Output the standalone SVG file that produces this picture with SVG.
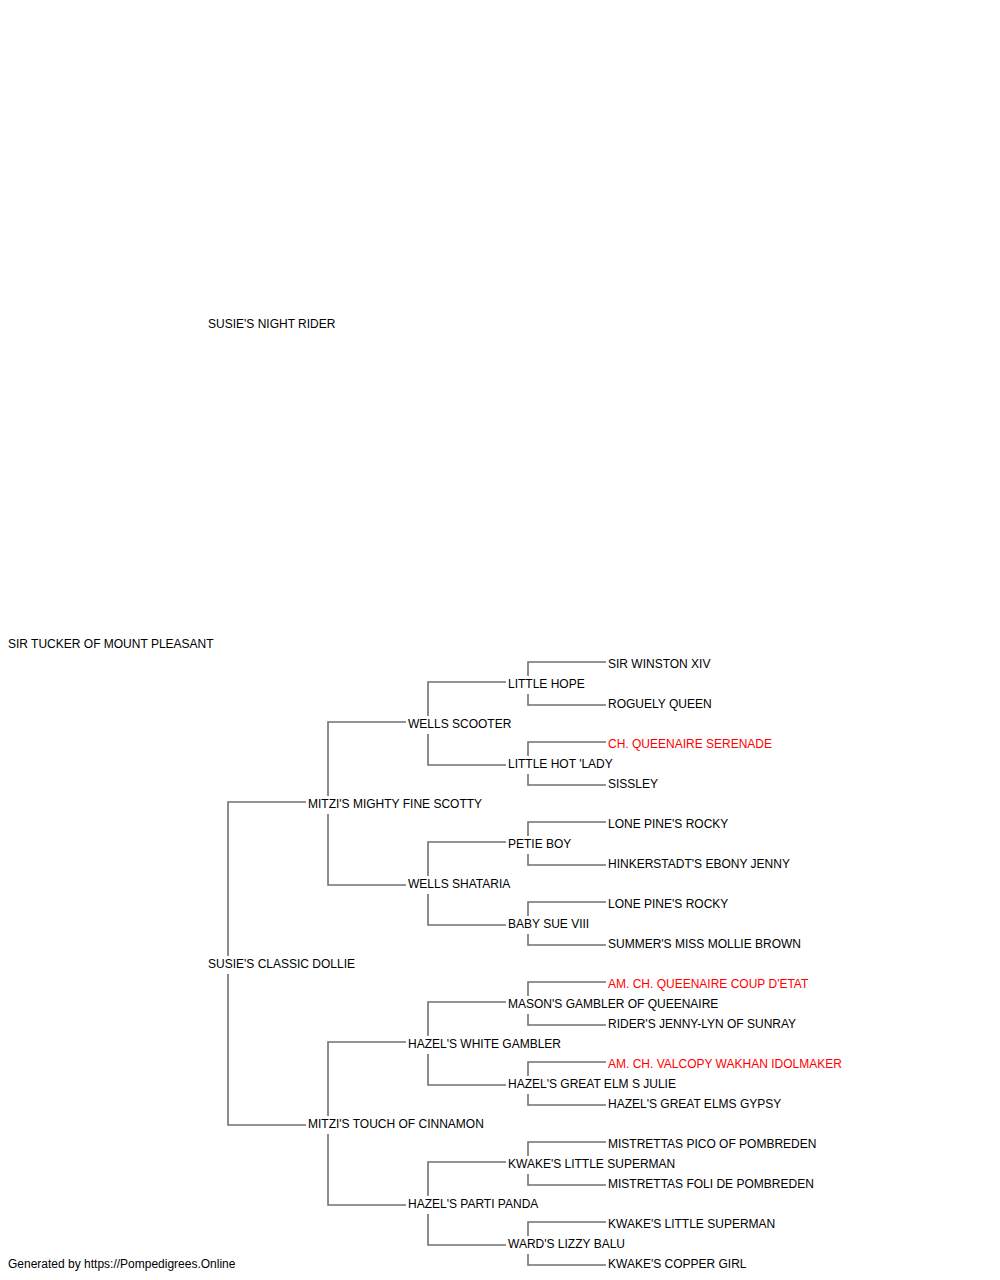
<svg xmlns="http://www.w3.org/2000/svg" width="1000" height="1280" viewBox="0 0 1000 1280">
<style>
text{font-family:"Liberation Sans",Arial,sans-serif;font-size:12px;fill:#000}
text.ch{fill:#ff0000}
#connectors path{fill:none;stroke:#707070;stroke-width:1.6}
</style>
<rect width="1000" height="1280" fill="#fff"/>
<g id="connectors">
<path d="M306 802H228V956M228 974V1125H306"/>
<path d="M406 722H328V796M328 814V885H406"/>
<path d="M406 1042H328V1116M328 1134V1205H406"/>
<path d="M506 682H428V716M428 734V765H506"/>
<path d="M506 842H428V876M428 894V925H506"/>
<path d="M506 1002H428V1036M428 1054V1085H506"/>
<path d="M506 1162H428V1196M428 1214V1245H506"/>
<path d="M606 662H528V676M528 694V705H606"/>
<path d="M606 742H528V756M528 774V785H606"/>
<path d="M606 822H528V836M528 854V865H606"/>
<path d="M606 902H528V916M528 934V945H606"/>
<path d="M606 982H528V996M528 1014V1025H606"/>
<path d="M606 1062H528V1076M528 1094V1105H606"/>
<path d="M606 1142H528V1156M528 1174V1185H606"/>
<path d="M606 1222H528V1236M528 1254V1265H606"/>
</g>
<g id="n0"><text x="8" y="648">SIR TUCKER OF MOUNT PLEASANT</text></g>
<g id="n1"><text x="208" y="328">SUSIE'S NIGHT RIDER</text></g>
<g id="n2"><text x="208" y="968">SUSIE'S CLASSIC DOLLIE</text></g>
<g id="n3"><text x="308" y="808">MITZI'S MIGHTY FINE SCOTTY</text></g>
<g id="n4"><text x="308" y="1128">MITZI'S TOUCH OF CINNAMON</text></g>
<g id="n5"><text x="408" y="728">WELLS SCOOTER</text></g>
<g id="n6"><text x="408" y="888">WELLS SHATARIA</text></g>
<g id="n7"><text x="408" y="1048">HAZEL'S WHITE GAMBLER</text></g>
<g id="n8"><text x="408" y="1208">HAZEL'S PARTI PANDA</text></g>
<g id="n9"><text x="508" y="688">LITTLE HOPE</text></g>
<g id="n10"><text x="508" y="768">LITTLE HOT 'LADY</text></g>
<g id="n11"><text x="508" y="848">PETIE BOY</text></g>
<g id="n12"><text x="508" y="928">BABY SUE VIII</text></g>
<g id="n13"><text x="508" y="1008">MASON'S GAMBLER OF QUEENAIRE</text></g>
<g id="n14"><text x="508" y="1088">HAZEL'S GREAT ELM S JULIE</text></g>
<g id="n15"><text x="508" y="1168">KWAKE'S LITTLE SUPERMAN</text></g>
<g id="n16"><text x="508" y="1248">WARD'S LIZZY BALU</text></g>
<g id="n17"><text x="608" y="668">SIR WINSTON XIV</text></g>
<g id="n18"><text x="608" y="708">ROGUELY QUEEN</text></g>
<g id="n19"><text class="ch" x="608" y="748">CH. QUEENAIRE SERENADE</text></g>
<g id="n20"><text x="608" y="788">SISSLEY</text></g>
<g id="n21"><text x="608" y="828">LONE PINE'S ROCKY</text></g>
<g id="n22"><text x="608" y="868">HINKERSTADT'S EBONY JENNY</text></g>
<g id="n23"><text x="608" y="908">LONE PINE'S ROCKY</text></g>
<g id="n24"><text x="608" y="948">SUMMER'S MISS MOLLIE BROWN</text></g>
<g id="n25"><text class="ch" x="608" y="988">AM. CH. QUEENAIRE COUP D'ETAT</text></g>
<g id="n26"><text x="608" y="1028">RIDER'S JENNY-LYN OF SUNRAY</text></g>
<g id="n27"><text class="ch" x="608" y="1068">AM. CH. VALCOPY WAKHAN IDOLMAKER</text></g>
<g id="n28"><text x="608" y="1108">HAZEL'S GREAT ELMS GYPSY</text></g>
<g id="n29"><text x="608" y="1148">MISTRETTAS PICO OF POMBREDEN</text></g>
<g id="n30"><text x="608" y="1188">MISTRETTAS FOLI DE POMBREDEN</text></g>
<g id="n31"><text x="608" y="1228">KWAKE'S LITTLE SUPERMAN</text></g>
<g id="n32"><text x="608" y="1268">KWAKE'S COPPER GIRL</text></g>
<g id="footer"><text x="8" y="1268">Generated by https://Pompedigrees.Online</text></g>
</svg>
